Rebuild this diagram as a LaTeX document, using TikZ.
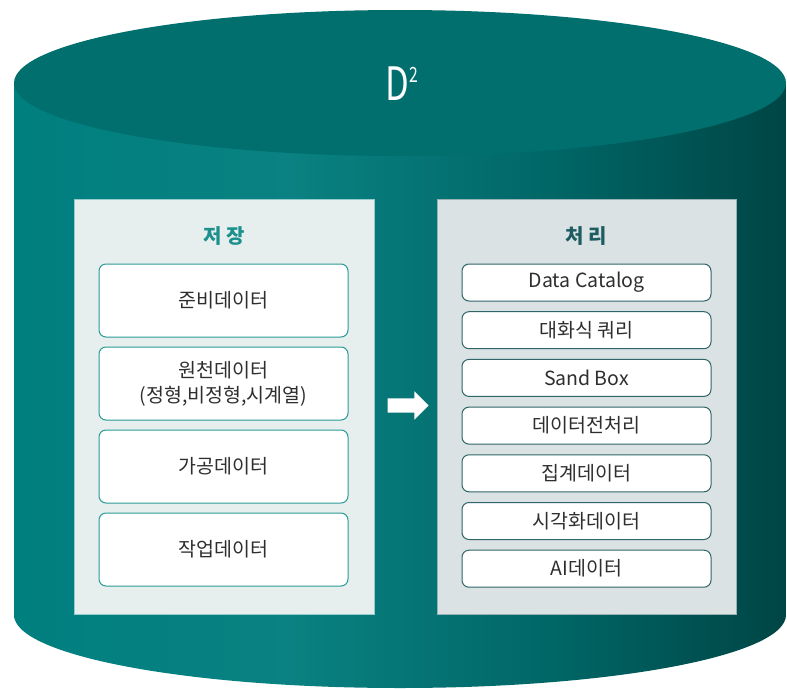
\documentclass[tikz,border=0pt]{standalone}
\usepackage{fontspec}
\usepackage{graphicx}
\newfontfamily\kr{Noto Sans CJK KR}
\usetikzlibrary{shapes.arrows,calc}

\definecolor{cylleft}{HTML}{007F7F}
\definecolor{cylmid}{HTML}{0A8182}
\definecolor{cylrightmid}{HTML}{006666}
\definecolor{cylright}{HTML}{004545}
\definecolor{cyltop}{HTML}{006F6E}
\definecolor{storefill}{HTML}{E6EFEE}
\definecolor{procfill}{HTML}{DAE2E3}
\definecolor{storeline}{HTML}{2A9A96}
\definecolor{procline}{HTML}{2F6569}
\definecolor{storetitle}{HTML}{1C918C}
\definecolor{proctitle}{HTML}{1D5C60}
\definecolor{boxtext}{HTML}{2E2E2E}
\pgfdeclarehorizontalshading{cylbody}{100bp}{color(0bp)=(cylleft); color(25bp)=(cylleft); color(43bp)=(cylmid); color(60bp)=(cylrightmid); color(75bp)=(cylright); color(100bp)=(cylright)}

\begin{document}
\begin{tikzpicture}
  [x=1pt,y=-1pt,every node/.style={font=\kr,text=boxtext},
   panel/.style={draw,line width=0.8pt,minimum width=300,minimum height=415,inner sep=0},
   sbox/.style={draw=storeline,fill=white,line width=1pt,rounded corners=7,minimum width=249,minimum height=73,align=center,font=\kr\fontsize{19.5}{25}\selectfont},
   pbox/.style={draw=procline,fill=white,line width=1pt,rounded corners=7,minimum width=249,minimum height=37,font=\kr\fontsize{19.5}{22}\selectfont},
   ptitle/.style={font=\kr\bfseries\fontsize{20}{20}\selectfont}]
  \useasboundingbox (0,0) rectangle (787,688);
  % cylinder
  \shade[shading=cylbody] (14,83) -- (14,615) arc[start angle=180,end angle=0,x radius=386,y radius=73] -- (786,83) -- cycle;
  \fill[cyltop] (400,83) ellipse [x radius=386,y radius=73];
  \node[font=\kr\fontsize{46}{46}\selectfont,text=white] (dd) at (402,84) {\scalebox{0.75}[1]{D\raisebox{0.4em}{\fontsize{21}{21}\selectfont 2}}};
  % panels
  \node[panel,draw=storeline!50,fill=storefill] (store) at (224,406.5) {};
  \node[panel,draw=procline!50,fill=procfill,minimum width=299] (proc) at (586.5,406.5) {};
  \node[ptitle,text=storetitle] (storet) at (224,236) {저 장};
  \node[ptitle,text=proctitle] (proct) at (586.5,236) {처 리};
  \foreach \t [count=\i] in {준비데이터,{원천데이터\\(정형,비정형,시계열)},가공데이터,작업데이터}
    \node[sbox] (s\i) at (223.5,{300.5+83*(\i-1)}) {\t};
  \foreach \t [count=\i] in {Data Catalog,대화식 쿼리,Sand Box,데이터전처리,집계데이터,시각화데이터,AI데이터}
    \node[pbox] (p\i) at (586.5,{282.5+47.7*(\i-1)}) {\t};
  \node[single arrow,fill=white,draw=none,inner xsep=0,inner ysep=7,minimum height=41,single arrow head extend=7] (arrow) at ($(store.east)!0.5!(proc.west)+(-1,-1)$) {};
\end{tikzpicture}
\end{document}
